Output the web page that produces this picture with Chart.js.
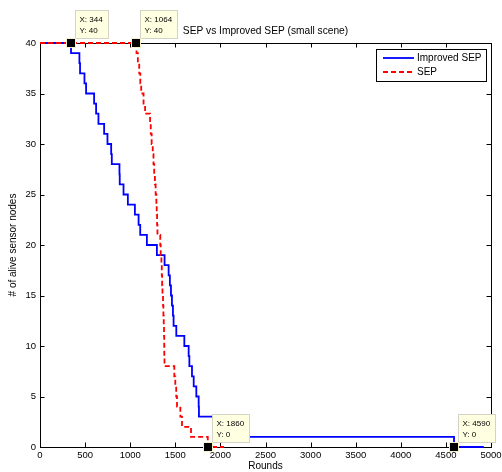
<!DOCTYPE html>
<html>
<head>
<meta charset="utf-8">
<script src="https://cdn.jsdelivr.net/npm/chart.js@4/dist/chart.umd.min.js"></script>
<style>
  html, body { margin: 0; padding: 0; background: #fff; }
  #wrap { width: 502px; height: 472px; position: relative; }
</style>
</head>
<body>
<div id="wrap"><canvas id="c"></canvas></div>
<script>
// Stair data: at each round the count drops to the given value
const improvedRounds = [0, 344, 437, 444, 493, 511, 600, 622, 648, 711, 748, 789, 796, 881, 884, 926, 974, 1052, 1093, 1111,
  1185, 1296, 1381, 1426, 1440, 1452, 1463, 1474, 1481, 1511, 1600, 1648, 1656, 1685, 1704, 1733, 1759, 1762, 2050, 2100, 4590, 4920]
const improvedAlive = [40, 39, 38, 37, 36, 35, 34, 33, 32, 31, 30, 29, 28, 27, 26, 25, 24, 23, 22, 21,
  20, 19, 18, 17, 16, 15, 14, 13, 12, 11, 10, 9, 8, 7, 6, 5, 4, 3, 2, 1, 0, 0]
const sepRounds = [0, 1070, 1085, 1100, 1112, 1122, 1148, 1165, 1220, 1228, 1238, 1250, 1258, 1266, 1274, 1282, 1290, 1294, 1298, 1302,
  1333, 1338, 1346, 1350, 1354, 1358, 1364, 1368, 1372, 1375, 1377, 1378, 1380, 1489, 1500, 1510, 1519, 1556, 1574, 1674, 1860, 2040]
const sepAlive = [40, 39, 38, 37, 36, 35, 34, 33, 32, 31, 30, 29, 28, 27, 26, 25, 24, 23, 22, 21,
  20, 19, 18, 17, 16, 15, 14, 13, 12, 11, 10, 9, 8, 7, 6, 5, 4, 3, 2, 1, 0, 0]

const xTicks = [0, 500, 1000, 1500, 2000, 2500, 3000, 3500, 4000, 4500, 5000]
const yTicks = [0, 5, 10, 15, 20, 25, 30, 35, 40]

// data tips shown on the figure
const tipRounds = [344, 1064, 1860, 4590]
const tipAlive = [40, 40, 0, 0]

const seriesNames = ['Improved SEP', 'SEP']
const chartTitle = 'SEP vs Improved SEP (small scene)'
const FONT = '"Liberation Sans", Arial, Helvetica, sans-serif'

function toPoints(xs, ys) {
  return xs.map((x, i) => ({ x: x, y: ys[i] }))
}

// MATLAB-like box with inward ticks on all four sides, title, legend and data tips
const frame = {
  id: 'frame',
  beforeDatasetsDraw(chart) {
    const { ctx, chartArea: a, scales } = chart
    const L = 4.5
    ctx.save()
    ctx.strokeStyle = '#000'
    ctx.lineWidth = 1
    ctx.beginPath()
    for (const v of xTicks) {
      const px = Math.round(scales.x.getPixelForValue(v)) + 0.5
      ctx.moveTo(px, a.bottom); ctx.lineTo(px, a.bottom - L)
      ctx.moveTo(px, a.top); ctx.lineTo(px, a.top + L)
    }
    for (const v of yTicks) {
      const py = Math.round(scales.y.getPixelForValue(v)) + 0.5
      ctx.moveTo(a.left, py); ctx.lineTo(a.left + L, py)
      ctx.moveTo(a.right, py); ctx.lineTo(a.right - L, py)
    }
    ctx.stroke()
    ctx.strokeRect(Math.round(a.left) + 0.5, Math.round(a.top) + 0.5,
      Math.round(a.right - a.left), Math.round(a.bottom - a.top))
    ctx.restore()
  },
  afterDraw(chart) {
    const { ctx, chartArea: a, scales } = chart
    ctx.save()
    // title, centred over the axes
    ctx.fillStyle = '#000'
    ctx.font = '10.2px ' + FONT
    ctx.textAlign = 'center'
    ctx.textBaseline = 'middle'
    ctx.fillText(chartTitle, (a.left + a.right) / 2, 31.5)
    ctx.textAlign = 'left'

    // legend box
    const lw = 110, lh = 32
    const lx = Math.round(a.right - 5 - lw) + 0.5, ly = Math.round(a.top + 6) + 0.5
    ctx.fillStyle = '#fff'
    ctx.fillRect(lx, ly, lw, lh)
    ctx.strokeStyle = '#000'
    ctx.lineWidth = 1
    ctx.strokeRect(lx, ly, lw, lh)
    const ds = [chart.data.datasets[1], chart.data.datasets[0]]
    ds.forEach((d, i) => {
      const y = ly + 8.5 + i * 14
      ctx.beginPath()
      ctx.strokeStyle = d.borderColor
      ctx.lineWidth = d.borderWidth
      ctx.setLineDash(d.borderDash || [])
      ctx.moveTo(lx + 6.5, y); ctx.lineTo(lx + 37.5, y)
      ctx.stroke()
      ctx.setLineDash([])
      ctx.fillStyle = '#000'
      ctx.font = '10px ' + FONT
      ctx.textBaseline = 'middle'
      ctx.fillText(seriesNames[i], lx + 40.5, y + 0.5)
    })

    // data tips
    ctx.font = '8px ' + FONT
    tipRounds.forEach((r, i) => {
      const px = scales.x.getPixelForValue(r)
      const py = scales.y.getPixelForValue(tipAlive[i])
      const l1 = 'X: ' + r, l2 = 'Y: ' + tipAlive[i]
      const w = Math.ceil(Math.max(ctx.measureText(l1).width, ctx.measureText(l2).width)) + 9
      const h = 28
      const bx = Math.round(px + 4) + 0.5, by = Math.round(py - 5 - h) + 0.5
      ctx.fillStyle = '#ffffe1'
      ctx.fillRect(bx, by, w, h)
      ctx.strokeStyle = '#d4d4c4'
      ctx.lineWidth = 1
      ctx.strokeRect(bx, by, w, h)
      ctx.fillStyle = '#000'
      ctx.textBaseline = 'middle'
      ctx.fillText(l1, bx + 4, by + 9)
      ctx.fillText(l2, bx + 4, by + 20)
      // marker
      ctx.fillStyle = '#000'
      ctx.fillRect(Math.round(px) - 4, Math.round(py) - 4, 8, 8)
      ctx.strokeStyle = '#f4f0c8'
      ctx.strokeRect(Math.round(px) - 4.5, Math.round(py) - 4.5, 9, 9)
    })
    ctx.restore()
  }
}

new Chart(document.getElementById('c'), {
  type: 'line',
  data: {
    datasets: [
      {
        label: 'SEP',
        data: toPoints(sepRounds, sepAlive),
        borderColor: '#ff0000',
        borderWidth: 1.8,
        borderDash: [5, 3],
        stepped: 'before',
        pointRadius: 0,
        clip: 6,
        fill: false
      },
      {
        label: 'Improved SEP',
        data: toPoints(improvedRounds, improvedAlive),
        borderColor: '#0000ff',
        borderWidth: 1.8,
        stepped: 'before',
        pointRadius: 0,
        clip: 6,
        fill: false
      }
    ]
  },
  options: {
    responsive: true,
    maintainAspectRatio: false,
    animation: false,
    layout: { padding: { left: 0, right: 11, top: 43, bottom: 0 } },
    plugins: {
      legend: { display: false },
      tooltip: { enabled: false },
      title: { display: false }
    },
    scales: {
      x: {
        type: 'linear',
        min: 0, max: 5000,
        afterBuildTicks: s => { s.ticks = xTicks.map(v => ({ value: v })) },
        afterFit: s => { s.height = 25; s.paddingLeft = 0; s.paddingRight = 0 },
        grid: { display: false, drawTicks: false, tickLength: 0 },
        border: { display: false },
        ticks: { color: '#000', font: { family: FONT, size: 9.5 }, padding: 3, maxRotation: 0, autoSkip: false, callback: v => String(v) },
        title: { display: true, text: 'Rounds', color: '#000', font: { family: FONT, size: 10 }, padding: { top: 0, bottom: 0 } }
      },
      y: {
        min: 0, max: 40,
        afterBuildTicks: s => { s.ticks = yTicks.map(v => ({ value: v })) },
        afterFit: s => { s.width = 40; s.paddingTop = 0; s.paddingBottom = 0 },
        grid: { display: false, drawTicks: false, tickLength: 0 },
        border: { display: false },
        ticks: { color: '#000', font: { family: FONT, size: 9.5 }, padding: 4, callback: v => String(v) },
        title: { display: true, text: '# of alive sensor nodes', color: '#000', font: { family: FONT, size: 10 }, padding: { top: 7, bottom: 0 } }
      }
    }
  },
  plugins: [frame]
})
</script>
</body>
</html>
